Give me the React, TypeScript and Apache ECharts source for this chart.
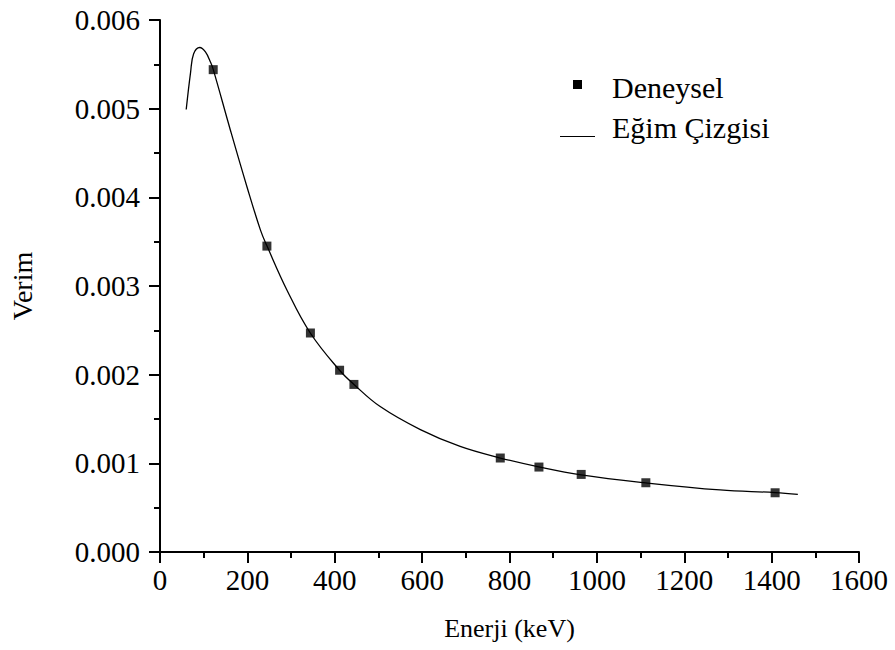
import React, { useEffect, useRef } from "react";
import * as echarts from "echarts";

// Measured efficiency at each gamma line (keV)
const measuredEnergy = [121.8, 244.7, 344.3, 411.1, 443.9, 778.9, 867.4, 964.1, 1112.1, 1408.0];
const measuredEfficiency = [0.00544, 0.00345, 0.00247, 0.00205, 0.00189, 0.00106, 0.000958, 0.000875, 0.000781, 0.000668];

// Fitted efficiency curve, sampled along its length
const fitEnergy = [60, 70, 77, 91, 104, 116, 122, 161, 199, 230, 245, 291, 344, 411, 444, 504, 596, 687, 779, 867, 964, 1112, 1282, 1408, 1460];
const fitEfficiency = [0.00499, 0.00541, 0.00562, 0.00569, 0.00564, 0.00552, 0.00544, 0.00476, 0.00412, 0.00363, 0.00345, 0.00295, 0.00247, 0.00205, 0.00189, 0.00164, 0.00138, 0.00119, 0.00106, 0.00096, 0.00087, 0.00078, 0.00070, 0.00067, 0.00065];

const legendLabels = ["Deneysel", "Eğim Çizgisi"];
const xAxisTitle = "Enerji (keV)";
const yAxisTitle = "Verim";

const FONT = "Times New Roman, Liberation Serif, DejaVu Serif, serif";

export default function App() {
  const ref = useRef<HTMLDivElement>(null);

  useEffect(() => {
    if (!ref.current) return;
    const chart = echarts.init(ref.current, null, { renderer: "svg" });
    const axisCommon = {
      axisLine: { show: true, lineStyle: { color: "#000", width: 2 } },
      axisTick: { show: true, inside: false, length: 11, lineStyle: { color: "#000", width: 2 } },
      minorTick: { show: true, splitNumber: 2, length: 6, lineStyle: { color: "#000", width: 2 } },
      splitLine: { show: false },
      minorSplitLine: { show: false },
      nameLocation: "middle" as const,
    };
    chart.setOption({
      animation: false,
      backgroundColor: "#fff",
      textStyle: { fontFamily: FONT },
      grid: { left: 160, right: 36, top: 20, bottom: 98 },
      xAxis: {
        ...axisCommon,
        type: "value",
        min: 0,
        max: 1600,
        interval: 200,
        name: xAxisTitle,
        nameGap: 63,
        nameTextStyle: { fontFamily: FONT, fontSize: 26, color: "#000" },
        axisLabel: {
          margin: 13,
          fontFamily: FONT,
          fontSize: 29,
          color: "#000",
          formatter: (v: number) => String(v),
        },
      },
      yAxis: {
        ...axisCommon,
        type: "value",
        min: 0,
        max: 0.006,
        interval: 0.001,
        name: yAxisTitle,
        nameGap: 124,
        nameTextStyle: { fontFamily: FONT, fontSize: 28, color: "#000" },
        axisLabel: {
          margin: 20,
          fontFamily: FONT,
          fontSize: 29,
          color: "#000",
          formatter: (v: number) => v.toFixed(3),
        },
      },
      series: [
        {
          name: legendLabels[1],
          type: "line",
          data: fitEnergy.map((e, i) => [e, fitEfficiency[i]]),
          smooth: 0.4,
          showSymbol: false,
          lineStyle: { color: "#000", width: 1.3 },
          z: 2,
        },
        {
          name: legendLabels[0],
          type: "scatter",
          data: measuredEnergy.map((e, i) => [e, measuredEfficiency[i]]),
          symbol: "rect",
          symbolSize: 9,
          itemStyle: { color: "#000" },
          z: 3,
        },
      ],
      graphic: [
        { type: "rect", shape: { x: 573, y: 80, width: 9, height: 9 }, style: { fill: "#000" } },
        {
          type: "text",
          x: 612,
          y: 87,
          style: { text: legendLabels[0], fontFamily: FONT, fontSize: 30, fill: "#000", verticalAlign: "middle" },
        },
        { type: "line", shape: { x1: 560, y1: 136.5, x2: 595, y2: 136.5 }, style: { stroke: "#000", lineWidth: 1.2 } },
        {
          type: "text",
          x: 612,
          y: 127,
          style: { text: legendLabels[1], fontFamily: FONT, fontSize: 30, fill: "#000", verticalAlign: "middle" },
        },
      ],
    });
    return () => chart.dispose();
  }, []);

  return (
    <div
      ref={ref}
      style={{ position: "fixed", left: 0, top: 0, width: 895, height: 650, background: "#fff" }}
    />
  );
}
